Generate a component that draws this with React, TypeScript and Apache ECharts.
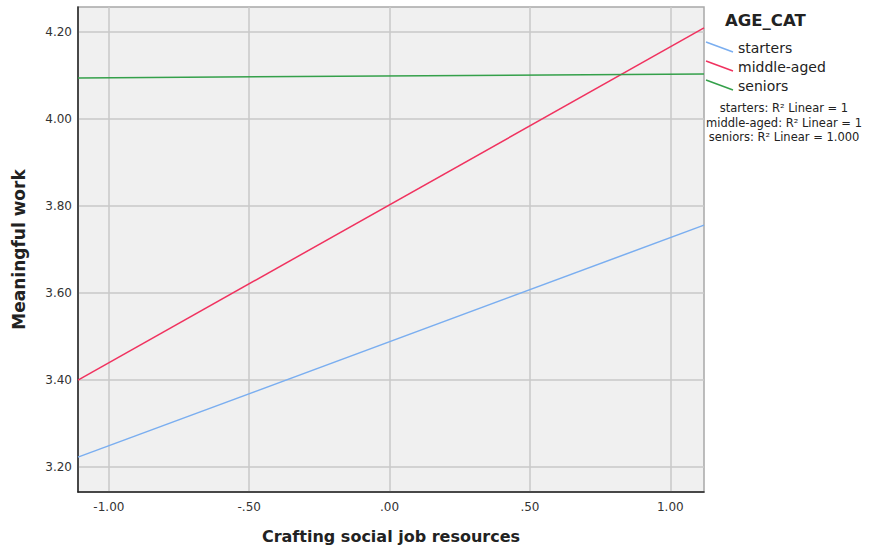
import React, { useEffect, useRef } from "react";
import * as echarts from "echarts";

const xRange = [-1.11, 1.12];
const starters = [3.223, 3.756];
const middleAged = [3.40, 4.209];
const seniors = [4.094, 4.103];
const xTicks = [-1.0, -0.5, 0, 0.5, 1.0];
const yTicks = [3.2, 3.4, 3.6, 3.8, 4.0, 4.2];
const seriesNames = ["starters", "middle-aged", "seniors"];
const colors = ["#7aaef0", "#f0325f", "#34a04a"];
const r2Labels = [
  "starters: R² Linear = 1",
  "middle-aged: R² Linear = 1",
  "seniors: R² Linear = 1.000",
];

const FONT = "DejaVu Sans";

function fmtX(v: number) {
  const s = Math.abs(v).toFixed(2);
  const t = Math.abs(v) < 1 ? s.replace(/^0/, "") : s;
  return (v < 0 ? "-" : "") + t;
}

export default function App() {
  const ref = useRef<HTMLDivElement>(null);
  useEffect(() => {
    document.body.style.margin = "0";
    const chart = echarts.init(ref.current!, null, { renderer: "svg" });
    const allSeries = [starters, middleAged, seniors];
    const legendY = [48, 67, 86];
    chart.setOption({
      animation: false,
      backgroundColor: "#ffffff",
      grid: {
        left: 78,
        right: 166,
        top: 7,
        bottom: 60,
        show: true,
        backgroundColor: "#f0f0f0",
        borderColor: "#a8a8a8",
        borderWidth: 1.5,
      },
      xAxis: {
        type: "value",
        min: xRange[0],
        max: xRange[1],
        name: "Crafting social job resources",
        nameLocation: "middle",
        nameGap: 36,
        nameTextStyle: { fontFamily: FONT, fontWeight: "bold", fontSize: 16, color: "#222" },
        axisLine: { show: true, onZero: false, lineStyle: { color: "#222", width: 1.5 } },
        axisTick: { show: false, customValues: xTicks },
        axisLabel: {
          customValues: xTicks,
          formatter: (v: number) => fmtX(v),
          fontFamily: FONT,
          fontSize: 12,
          color: "#333",
          margin: 9,
        },
        splitLine: { show: true, lineStyle: { color: "#c8c8c8", width: 1.5 } },
      },
      yAxis: {
        type: "value",
        min: 3.143,
        max: 4.257,
        name: "Meaningful work",
        nameLocation: "middle",
        nameGap: 51,
        nameTextStyle: { fontFamily: FONT, fontWeight: "bold", fontSize: 17, color: "#222" },
        axisLine: { show: true, onZero: false, lineStyle: { color: "#222", width: 1.5 } },
        axisTick: { show: false, customValues: yTicks },
        axisLabel: {
          customValues: yTicks,
          formatter: (v: number) => v.toFixed(2),
          fontFamily: FONT,
          fontSize: 12,
          color: "#333",
          margin: 6,
        },
        splitLine: { show: true, lineStyle: { color: "#c8c8c8", width: 1.5 } },
      },
      series: allSeries.map((d, i) => ({
        name: seriesNames[i],
        type: "line",
        data: [
          [xRange[0], d[0]],
          [xRange[1], d[1]],
        ],
        showSymbol: false,
        lineStyle: { color: colors[i], width: 1.5 },
      })),
      graphic: [
        {
          type: "text",
          left: 725,
          top: 12,
          style: { text: "AGE_CAT", fontFamily: FONT, fontWeight: "bold", fontSize: 16.5, fill: "#222" },
        },
        ...seriesNames.flatMap((n, i) => [
          {
            type: "line",
            shape: { x1: 706, y1: legendY[i] - 6, x2: 733, y2: legendY[i] + 4 },
            style: { stroke: colors[i], lineWidth: 1.5 },
          },
          {
            type: "text",
            x: 738,
            y: legendY[i],
            style: {
              text: n,
              fontFamily: FONT,
              fontSize: 14,
              fill: "#222",
              verticalAlign: "middle",
            },
          },
        ]),
        ...r2Labels.map((t, i) => ({
          type: "text",
          x: 784,
          y: 108 + i * 14.5,
          style: {
            text: t,
            fontFamily: FONT,
            fontSize: 11.5,
            fill: "#222",
            align: "center",
            verticalAlign: "middle",
          },
        })),
      ],
    });
    return () => chart.dispose();
  }, []);
  return <div ref={ref} style={{ width: 870, height: 552 }} />;
}
